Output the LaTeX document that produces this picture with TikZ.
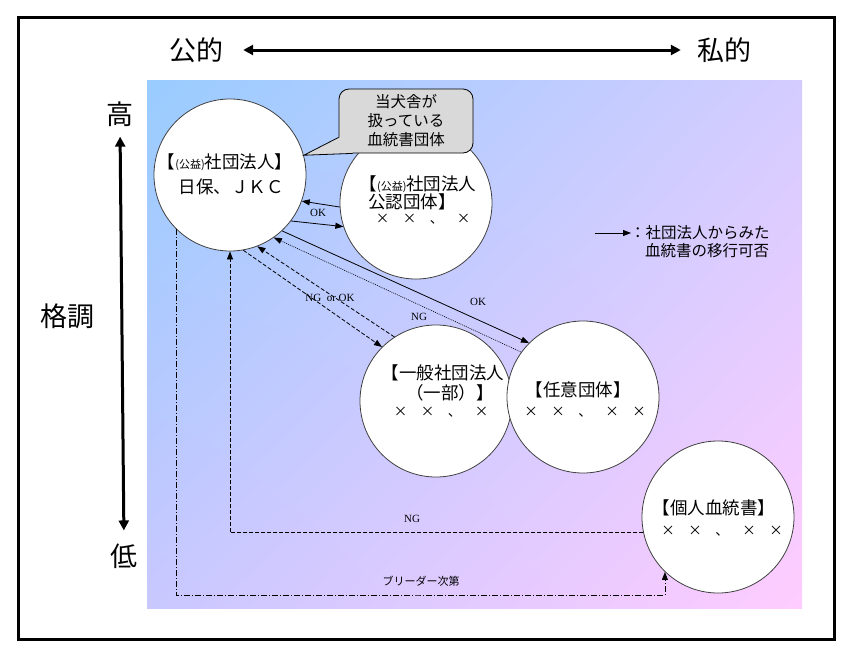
\documentclass[tikz,border=0pt]{standalone}
\usepackage{fontspec}
\setmainfont{Liberation Serif}
\newfontfamily\jp{Noto Sans CJK JP}
\usetikzlibrary{arrows.meta,calc,shadings}
\definecolor{gUL}{HTML}{99CCFF}
\definecolor{gUR}{HTML}{D4CCFF}
\definecolor{gLL}{HTML}{C8C8FF}
\definecolor{gLR}{HTML}{FFCCFF}
\definecolor{cgray}{HTML}{D9D9D9}
\begin{document}
\begin{tikzpicture}[x=1pt,y=-1pt,
  circ/.style={circle,draw=black!75,line width=0.8pt,fill=white,minimum size=152pt,inner sep=0pt},
  jt/.style={font=\jp\fontsize{17.5}{17.5}\selectfont,inner sep=0pt},
  xt/.style={font=\jp\fontsize{13.5}{13.5}\selectfont,inner sep=0pt},
  big/.style={font=\jp\fontsize{27}{27}\selectfont,inner sep=0pt},
  lab/.style={font=\fontsize{11}{11}\selectfont,inner sep=0pt},
  tipa/.style={-{Triangle[length=8pt,width=6pt]}},
  axisarrow/.style={line width=3pt,{Triangle[length=10pt,width=10pt]}-{Triangle[length=10pt,width=10pt]}},
  dsh/.style={dash pattern=on 4pt off 2pt,line width=0.8pt},
  dtt/.style={dash pattern=on 1pt off 1pt,line width=0.6pt},
  dshdot/.style={dash pattern=on 6pt off 2pt on 1pt off 2pt,line width=0.8pt}
]
\useasboundingbox (0,0) rectangle (855,651);
\fill[white] (0,0) rectangle (855,651);
\shade[upper left=gUL, upper right=gUR, lower left=gLL, lower right=gLR] (147,80) rectangle (802,608);
\draw[line width=3pt] (18,17) rectangle (834,639);

% axes
\node[big] (pub) at (196,50) {公的};
\node[big] (pri) at (724,50) {私的};
\draw[axisarrow,shorten <=20pt,shorten >=16pt] (pub.east) -- (pri.west);
\node[big] (hi) at (120,114) {高};
\node[big] (lo) at (124,556) {低};
\node[big] (kaku) at (67,316) {格調};
\draw[axisarrow,shorten <=10pt,shorten >=13pt] (hi.south) -- (lo.north);

% circles
\node[circ] (jkc) at (230,175) {};
\node[circ] (kon) at (416,203) {};
\node[circ] (ipp) at (436,401) {};
\node[circ] (nin) at (583,397) {};
\node[circ] (koj) at (718,517) {};

% callout
\node[draw=black,fill=cgray,rounded corners=10pt,minimum width=134pt,minimum height=64pt,line width=0.8pt,
  align=center,inner sep=0pt,font=\jp\fontsize{15.5}{19}\selectfont] (call) at (406,121) {当犬舎が\\扱っている\\血統書団体};
\fill[cgray] ($(call.south west)+(0.5,-16)$) -- (jkc.15) -- ($(call.south west)+(14,-0.5)$) -- ($(call.south west)+(12,-12)$) -- cycle;
\draw[line width=0.8pt] ($(call.south west)+(0,-16)$) -- (jkc.15) -- ($(call.south west)+(14,0)$);

% circle texts
\node[jt] (t1) at (225,162) {【{\fontsize{11}{11}\selectfont(公益)}社団法人】};
\node[jt] (t2) at (231,187) {日保、ＪＫＣ};
\node[jt] (k1) at (418,184) {【{\fontsize{11}{11}\selectfont(公益)}社団法人};
\node[jt] (k2) at (412,202) {公認団体】};
\node[xt] (k3) at (423,219) {×　×　、　×};
\node[jt] (g1) at (443,373) {【一般社団法人};
\node[jt] (g2) at (450,393) {（一部）】};
\node[xt] (g3) at (441,412) {×　×　、　×};
\node[jt] (n1) at (578,390) {【任意団体】};
\node[xt] (n2) at (585,412) {×　×　、　×　×};
\node[jt] (p1) at (714,508) {【個人血統書】};
\node[xt] (p2) at (722,531) {×　×　、　×　×};

% legend
\coordinate (lg1) at (595,233);
\coordinate (lg2) at (631,233);
\draw[tipa,line width=0.8pt] (lg1) -- (lg2);
\node[inner sep=0pt,anchor=west,font=\jp\fontsize{15.5}{15.5}\selectfont] (leg1) at (630,233) {：社団法人からみた};
\node[inner sep=0pt,anchor=west,font=\jp\fontsize{15.5}{15.5}\selectfont] (leg2) at (645,251) {血統書の移行可否};

% connectors
\draw[tipa,line width=0.8pt] (kon.183) -- (jkc.340);
\draw[tipa,line width=0.8pt] (jkc.323) -- (kon.198);
\node[lab] (ok1) at (318,213) {OK};
\draw[tipa,line width=0.8pt] (jkc.313) -- (nin.135);
\node[lab] (ok2) at (478,302) {OK};
\draw[tipa,dtt] (nin.144.5) -- (jkc.305.5);
\node[lab] (ng1) at (419,317) {NG};
\draw[tipa,dsh] (ipp.123.5) -- (jkc.291);
\draw[tipa,dsh] (jkc.280) -- (ipp.135);
\node[lab] (ngok) at (330,298) {NG\ \ or OK};
\draw[tipa,dsh] (koj.192) -| (jkc.south);
\node[lab] (ng2) at (412,519) {NG};
\coordinate (bd) at (420,595);
\draw[tipa,dshdot] (jkc.225.5) |- (bd) -| (koj.226);
\node[inner sep=0pt,font=\jp\fontsize{11}{11}\selectfont] (br) at (421,581) {ブリーダー次第};
\end{tikzpicture}
\end{document}
